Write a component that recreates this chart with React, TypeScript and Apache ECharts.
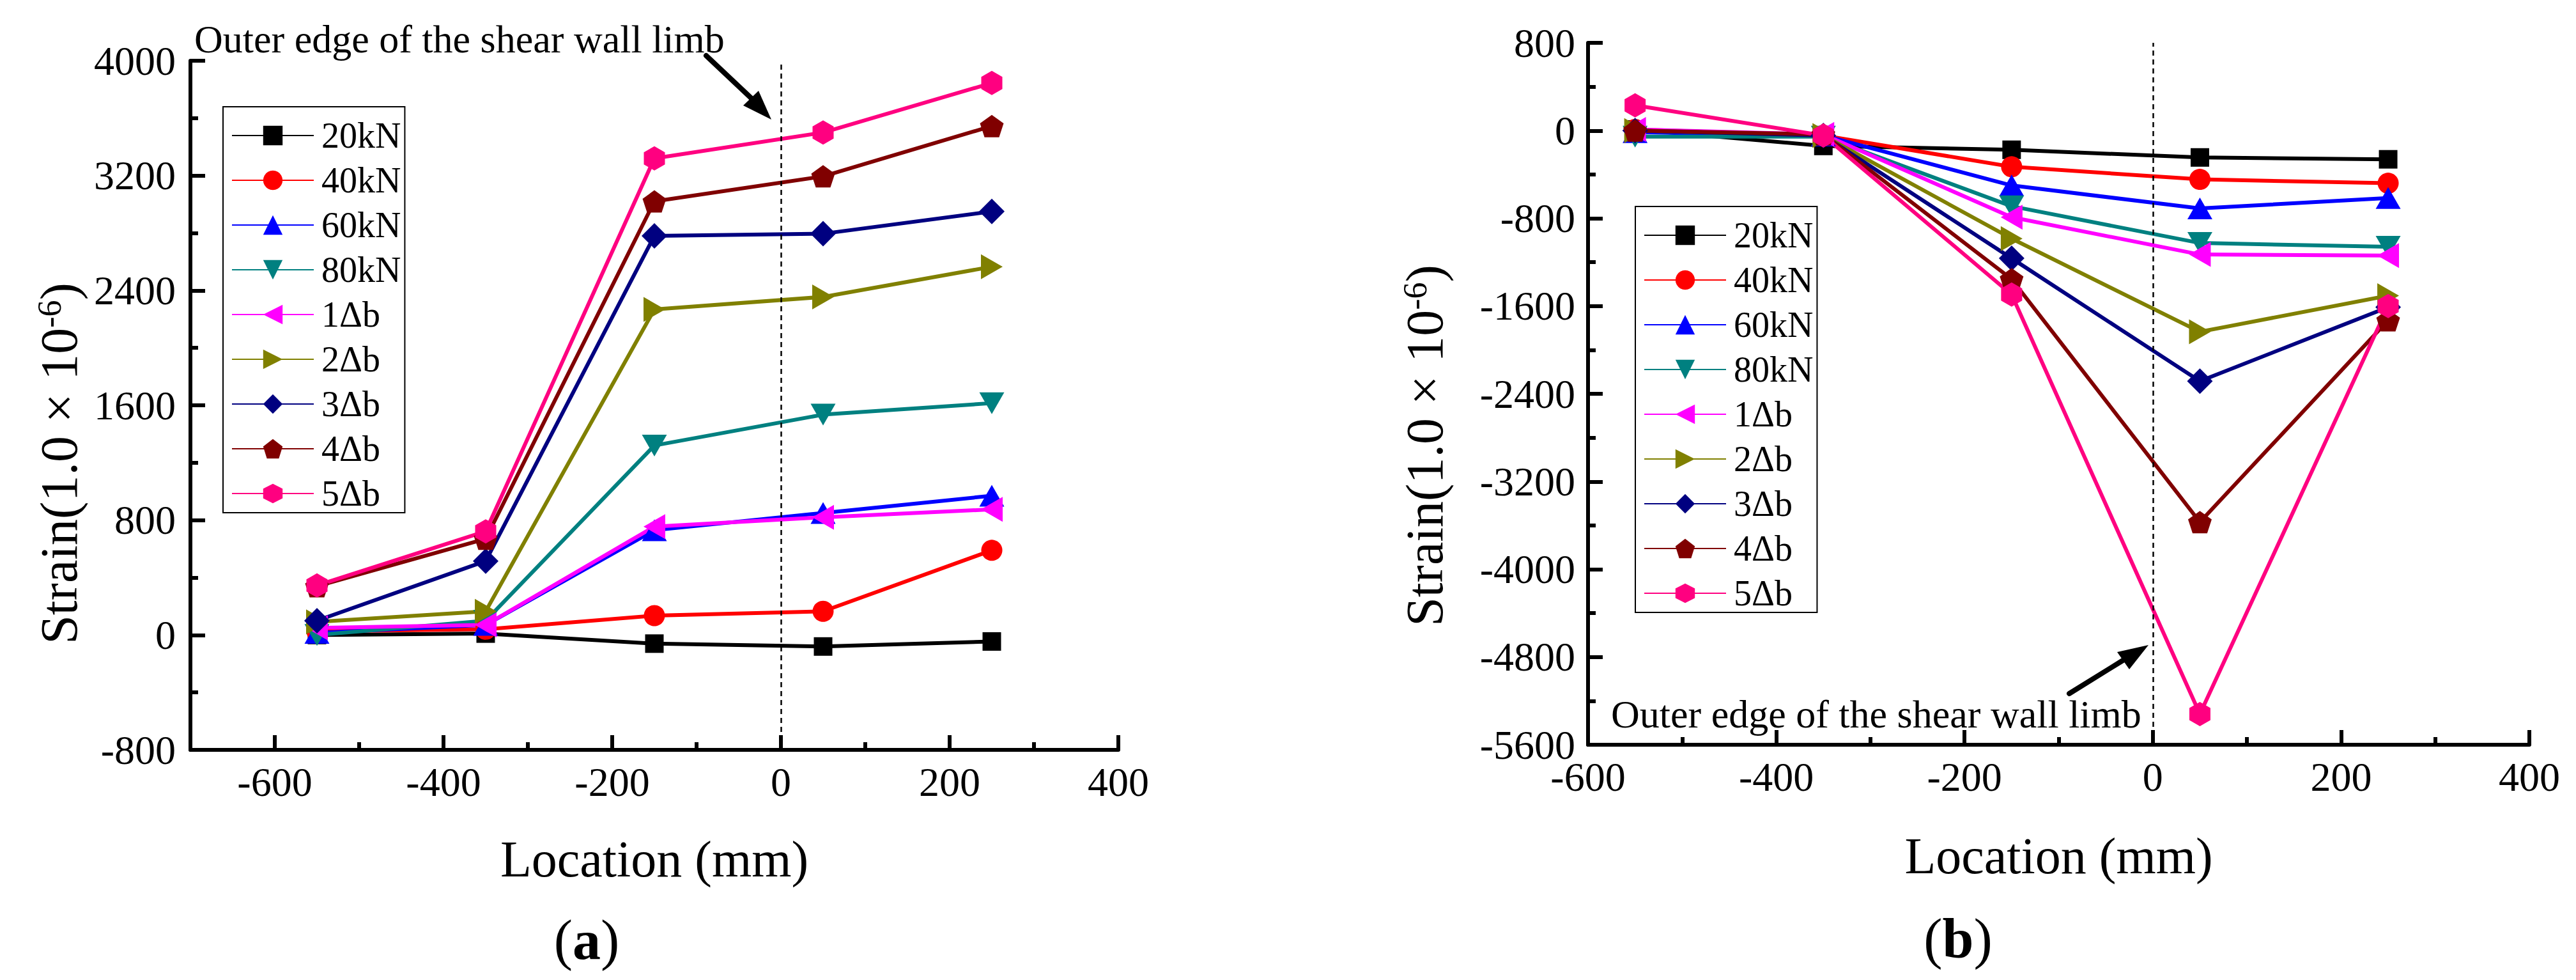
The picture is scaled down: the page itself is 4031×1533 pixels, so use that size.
import { useEffect, useRef } from "react";
import * as echarts from "echarts";

// measuring points along the wall (mm)
const locations = [-550, -350, -150, 50, 250];
const loadSteps = ["20kN", "40kN", "60kN", "80kN", "1Δb", "2Δb", "3Δb", "4Δb", "5Δb"];

// (a) strain readings, 1.0 x 10^-6
const strainA20kN = [0, 10, -60, -80, -45];
const strainA40kN = [25, 40, 135, 165, 590];
const strainA60kN = [15, 70, 730, 850, 970];
const strainA80kN = [0, 100, 1320, 1535, 1615];
const strainA1db = [50, 70, 755, 820, 875];
const strainA2db = [92, 165, 2268, 2355, 2565];
const strainA3db = [100, 515, 2780, 2795, 2950];
const strainA4db = [340, 670, 3020, 3195, 3545];
const strainA5db = [345, 722, 3320, 3500, 3845];

// (b) strain readings, 1.0 x 10^-6
const strainB20kN = [10, -140, -175, -245, -262];
const strainB40kN = [10, -45, -330, -445, -480];
const strainB60kN = [-15, -45, -500, -710, -615];
const strainB80kN = [-55, -55, -690, -1025, -1060];
const strainB1db = [10, -35, -790, -1130, -1140];
const strainB2db = [0, -45, -985, -1835, -1505];
const strainB3db = [0, -45, -1165, -2285, -1610];
const strainB4db = [0, -35, -1355, -3570, -1730];
const strainB5db = [230, -45, -1495, -5320, -1600];

// tick labels
const xTicksA = [-600, -400, -200, 0, 200, 400];
const xMinorTicksA = [-500, -300, -100, 100, 300];

const strainA = [strainA20kN, strainA40kN, strainA60kN, strainA80kN, strainA1db, strainA2db, strainA3db, strainA4db, strainA5db];
const strainB = [strainB20kN, strainB40kN, strainB60kN, strainB80kN, strainB1db, strainB2db, strainB3db, strainB4db, strainB5db];

const FONT = "Liberation Serif, Times New Roman, DejaVu Serif, serif";
const PENTAGON = "path://M50,0 L97.6,34.5 L79.4,90.5 L20.6,90.5 L2.4,34.5 Z";
const HEXAGON = "path://M50,0 L93.3,25 L93.3,75 L50,100 L6.7,75 L6.7,25 Z";

const markers = [
  { color: "#000000", symbol: "rect", size: 29, rotate: 0 },
  { color: "#FF0000", symbol: "circle", size: 33, rotate: 0 },
  { color: "#0000FF", symbol: "triangle", size: [39, 34], rotate: 0 },
  { color: "#008080", symbol: "triangle", size: [39, 34], rotate: 180 },
  { color: "#FF00FF", symbol: "triangle", size: [39, 34], rotate: 90 },
  { color: "#808000", symbol: "triangle", size: [39, 34], rotate: -90 },
  { color: "#000080", symbol: "diamond", size: 40, rotate: 0 },
  { color: "#800000", symbol: PENTAGON, size: [37, 35], rotate: 0 },
  { color: "#FF0080", symbol: HEXAGON, size: [33, 38], rotate: 0 },
];

const black = "#000";
const axisLine = { show: true, onZero: false, lineStyle: { color: black, width: 6 } };
const tickLine = { color: black, width: 6 };
const labelStyle = { color: black, fontFamily: FONT, fontSize: 64, formatter: (v: number) => String(v) };
const nameStyle = { color: black, fontFamily: FONT, fontSize: 80 };
const supRich = { sup: { fontSize: 52, fontFamily: FONT, color: black, verticalAlign: "top" } };

function makeSeries(values: number[][], xAxisIndex: number, yAxisIndex: number) {
  return values.map((vals, i) => {
    const m = markers[i];
    const s: any = {
      name: loadSteps[i],
      type: "line",
      xAxisIndex,
      yAxisIndex,
      data: locations.map((x, j) => [x, vals[j]]),
      symbol: m.symbol,
      symbolSize: m.size,
      symbolRotate: m.rotate,
      lineStyle: { color: m.color, width: 6 },
      itemStyle: { color: m.color },
      emphasis: { disabled: true },
    };
    if (i === 0) {
      s.markLine = {
        silent: true,
        symbol: ["none", "none"],
        label: { show: false },
        lineStyle: { color: black, type: [8, 6], width: 2.5 },
        data: [{ xAxis: 0 }],
      };
    }
    return s;
  });
}

function legendAt(left: number, top: number) {
  return {
    data: loadSteps,
    orient: "vertical",
    left,
    top,
    itemWidth: 128,
    itemHeight: 38,
    itemGap: 14,
    padding: [17, 6, 2, 13],
    borderColor: black,
    borderWidth: 2,
    selectedMode: false,
    textStyle: { color: black, fontFamily: FONT, fontSize: 56, lineHeight: 56, padding: [0, 0, 0, 7] },
  };
}

function arrow(tail: number[], base: number[], tip: number[], c1: number[], c2: number[]) {
  return [
    {
      type: "line",
      z: 100,
      shape: { x1: tail[0], y1: tail[1], x2: base[0], y2: base[1] },
      style: { stroke: black, lineWidth: 8, lineCap: "round" },
    },
    {
      type: "polygon",
      z: 100,
      shape: { points: [tip, c1, c2] },
      style: { fill: black },
    },
  ];
}

const annotation = "Outer edge of the shear wall limb";

export default function App() {
  const chartRef = useRef<HTMLDivElement>(null);

  useEffect(() => {
    document.body.style.margin = "0";
    if (!chartRef.current) return;
    const chart = echarts.init(chartRef.current, undefined, { renderer: "svg" });

    const option: any = {
      animation: false,
      backgroundColor: "#fff",
      textStyle: { fontFamily: FONT, color: black },
      grid: [
        { left: 298, top: 95, width: 1452, height: 1078 },
        { left: 2485, top: 67, width: 1473, height: 1098 },
      ],
      xAxis: [
        {
          gridIndex: 0,
          type: "value",
          position: "bottom",
          min: -700,
          max: 400,
          axisLine,
          axisTick: { show: true, inside: true, length: 23, customValues: xTicksA, lineStyle: tickLine },
          axisLabel: { ...labelStyle, margin: 18, customValues: xTicksA },
          splitLine: { show: false },
          name: "Location (mm)",
          nameLocation: "middle",
          nameGap: 131,
          nameTextStyle: nameStyle,
        },
        {
          gridIndex: 0,
          type: "value",
          position: "bottom",
          min: -700,
          max: 400,
          axisLine: { show: false, onZero: false },
          axisTick: { show: true, inside: true, length: 12, customValues: xMinorTicksA, lineStyle: tickLine },
          axisLabel: { show: false },
          splitLine: { show: false },
        },
        {
          gridIndex: 1,
          type: "value",
          position: "bottom",
          min: -600,
          max: 400,
          interval: 200,
          axisLine,
          axisTick: { show: true, inside: true, length: 23, lineStyle: tickLine },
          minorTick: { show: true, splitNumber: 2, length: 12, lineStyle: tickLine },
          axisLabel: { ...labelStyle, margin: 18 },
          splitLine: { show: false },
          name: "Location (mm)",
          nameLocation: "middle",
          nameGap: 134,
          nameTextStyle: nameStyle,
        },
      ],
      yAxis: [
        {
          gridIndex: 0,
          type: "value",
          min: -800,
          max: 4000,
          interval: 800,
          axisLine,
          axisTick: { show: true, inside: true, length: 23, lineStyle: tickLine },
          minorTick: { show: true, splitNumber: 2, length: 12, lineStyle: tickLine },
          axisLabel: { ...labelStyle, margin: 23 },
          splitLine: { show: false },
          name: "Strain(1.0 × 10{sup|-6})",
          nameLocation: "middle",
          nameGap: 165,
          nameTextStyle: { ...nameStyle, fontSize: 82, padding: [0, 182, 0, 0], rich: supRich },
        },
        {
          gridIndex: 1,
          type: "value",
          min: -5600,
          max: 800,
          interval: 800,
          axisLine,
          axisTick: { show: true, inside: true, length: 23, lineStyle: tickLine },
          minorTick: { show: true, splitNumber: 2, length: 12, lineStyle: tickLine },
          axisLabel: { ...labelStyle, margin: 20 },
          splitLine: { show: false },
          name: "Strain(1.0 × 10{sup|-6})",
          nameLocation: "middle",
          nameGap: 215,
          nameTextStyle: { ...nameStyle, fontSize: 82, padding: [0, 162, 0, 0], rich: supRich },
        },
      ],
      legend: [legendAt(349, 167), legendAt(2559, 323)],
      series: [...makeSeries(strainA, 0, 0), ...makeSeries(strainB, 2, 1)],
      graphic: [
        {
          type: "text",
          z: 100,
          x: 304,
          y: 61,
          style: { text: annotation, fontFamily: FONT, fontSize: 62, fill: black, align: "left", verticalAlign: "middle" },
        },
        {
          type: "text",
          z: 100,
          x: 2521,
          y: 1117,
          style: { text: annotation, fontFamily: FONT, fontSize: 62, fill: black, align: "left", verticalAlign: "middle" },
        },
        ...arrow([1105, 87], [1175, 153], [1207, 187], [1163, 165], [1187, 142]),
        ...arrow([3238, 1085], [3322, 1033], [3362, 1009], [3313, 1020], [3332, 1047]),
        {
          type: "text",
          z: 100,
          x: 918,
          y: 1470,
          style: {
            text: "({b|a})",
            fontFamily: FONT,
            fontSize: 88,
            fill: black,
            align: "center",
            verticalAlign: "middle",
            rich: { b: { fontFamily: FONT, fontSize: 88, fontWeight: "bold", fill: black } },
          },
        },
        {
          type: "text",
          z: 100,
          x: 3064,
          y: 1468,
          style: {
            text: "({b|b})",
            fontFamily: FONT,
            fontSize: 88,
            fill: black,
            align: "center",
            verticalAlign: "middle",
            rich: { b: { fontFamily: FONT, fontSize: 88, fontWeight: "bold", fill: black } },
          },
        },
      ],
    };

    chart.setOption(option);

    return () => {
      chart.dispose();
    };
  }, []);

  return <div ref={chartRef} style={{ width: "4031px", height: "1533px" }} />;
}
